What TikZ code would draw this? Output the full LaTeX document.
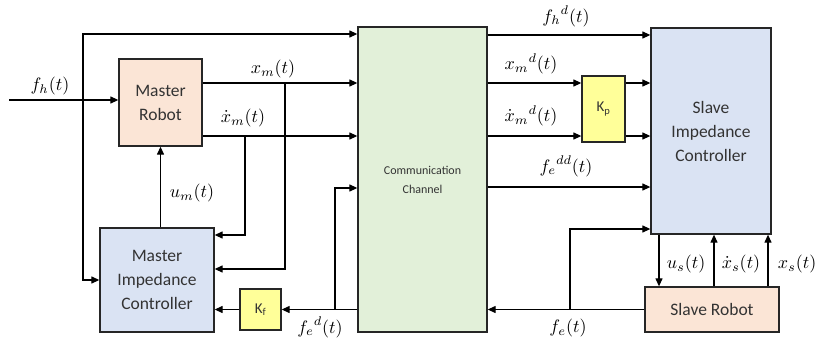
\documentclass[tikz,border=0pt]{standalone}
\usepackage{fontspec}
\setsansfont{Carlito}
\usetikzlibrary{arrows.meta}
\definecolor{peach}{HTML}{FBE5D6}
\definecolor{lblue}{HTML}{DAE3F3}
\definecolor{lgreen}{HTML}{E2F0D9}
\definecolor{lyellow}{HTML}{FFFF99}
\definecolor{edge}{HTML}{262626}
\newcommand{\ml}[1]{\scalebox{1.8}{$#1$}}
\begin{document}
\begin{tikzpicture}[x=1pt,y=-1pt,
 box/.style={draw=edge,line width=1.3pt,inner sep=0pt,align=center,text=black!80,font=\sffamily\fontsize{17.5}{24}\selectfont},
 arr/.style={line width=1.2pt,draw=black,-{Triangle[length=8pt,width=7pt]}},
 lab/.style={inner sep=0pt}]
\useasboundingbox (0,0) rectangle (819,345);
% boxes
\node[box,fill=peach,minimum width=83pt,minimum height=87pt] (MR) at (160.5,102.5) {Master\\Robot};
\node[box,fill=lblue,minimum width=114pt,minimum height=104pt] (MIC) at (157,280) {Master\\Impedance\\Controller};
\node[box,fill=lyellow,minimum width=41pt,minimum height=41pt,font=\sffamily\fontsize{15}{18}\selectfont] (Kf) at (260.5,309.5) {K\textsubscript{f}};
\node[box,fill=lgreen,minimum width=129pt,minimum height=305pt,font=\sffamily\fontsize{12}{19}\selectfont] (CH) at (422.5,179.5) {Communication\\Channel};
\node[box,fill=lyellow,minimum width=43pt,minimum height=66pt,font=\sffamily\fontsize{15}{18}\selectfont] (Kp) at (603.5,109) {K\textsubscript{p}};
\node[box,fill=lblue,minimum width=120pt,minimum height=206pt] (SIC) at (711,131) {Slave\\Impedance\\Controller};
\node[box,fill=peach,minimum width=134pt,minimum height=45pt] (SR) at (712,309.5) {Slave Robot};
% helper coordinates
\coordinate (y34) at (0,34);
\coordinate (y35) at (0,35);
\coordinate (y83) at (0,83);
\coordinate (y136) at (0,136);
\coordinate (y187) at (0,187);
\coordinate (y188) at (0,188);
\coordinate (y229) at (0,229);
\coordinate (y235) at (0,235);
\coordinate (y269) at (0,269);
\coordinate (x659) at (659,0);
\coordinate (x714) at (714,0);
\coordinate (x768) at (768,0);
\coordinate (fin) at (9,100);
\coordinate (j0) at (83,100);
\coordinate (bxm) at (285,83);
\coordinate (bxd) at (245,136);
\coordinate (bfe) at (335,309.5);
\coordinate (bfs) at (570,309.5);
% master side
\draw[arr] (fin) -- (fin -| MR.west);
\draw[arr] (j0) |- (CH.west |- y34);
\draw[arr] (j0) |- (MIC.west);
\draw[arr] (MR.east |- y83) -- (CH.west |- y83);
\draw[arr] (bxm) |- (MIC.east |- y269);
\draw[arr] (MR.east |- y136) -- (CH.west |- y136);
\draw[arr] (bxd) |- (MIC.east |- y235);
\draw[arr] (MIC.north -| MR.south) -- (MR.south);
\draw[arr] (CH.west |- Kf.east) -- (Kf.east);
\draw[arr] (Kf.west) -- (MIC.east |- Kf.west);
\draw[arr] (bfe) |- (CH.west |- y188);
% slave side
\draw[arr] (CH.east |- y35) -- (SIC.west |- y35);
\draw[arr] (CH.east |- y83) -- (Kp.west |- y83);
\draw[arr] (CH.east |- y136) -- (Kp.west |- y136);
\draw[arr] (Kp.east |- y83) -- (SIC.west |- y83);
\draw[arr] (Kp.east |- y136) -- (SIC.west |- y136);
\draw[arr] (CH.east |- y187) -- (SIC.west |- y187);
\draw[arr] (SR.west) -- (CH.east |- SR.west);
\draw[arr] (bfs) |- (SIC.west |- y229);
\draw[arr] (SIC.south -| x659) -- (SR.north -| x659);
\draw[arr] (SR.north -| x714) -- (SIC.south -| x714);
\draw[arr] (SR.north -| x768) -- (SIC.south -| x768);
% labels
\node[lab] (lfh) at (50,86) {\ml{f_h(t)}};
\node[lab] (lxm) at (273,69) {\ml{x_m(t)}};
\node[lab] (lxmd) at (243,118) {\ml{\dot{x}_m(t)}};
\node[lab] (lum) at (192,193) {\ml{u_m(t)}};
\node[lab] (lfed) at (320,327) {\ml{\mathord{f_e}^d(t)}};
\node[lab] (lfhd) at (566,16) {\ml{\mathord{f_h}^d(t)}};
\node[lab] (lxmdd) at (531,64) {\ml{\mathord{x_m}^d(t)}};
\node[lab] (lxmdotd) at (531,116) {\ml{{\dot{x}_m\mkern0mu}^d(t)}};
\node[lab] (lfedd) at (566,166) {\ml{\mathord{f_e}^{dd}(t)}};
\node[lab] (lfe) at (568,328) {\ml{f_e(t)}};
\node[lab] (lus) at (686,264) {\ml{u_s(t)}};
\node[lab] (lxsd) at (741,264) {\ml{\dot{x}_s(t)}};
\node[lab] (lxs) at (797,264) {\ml{x_s(t)}};
\end{tikzpicture}
\end{document}
